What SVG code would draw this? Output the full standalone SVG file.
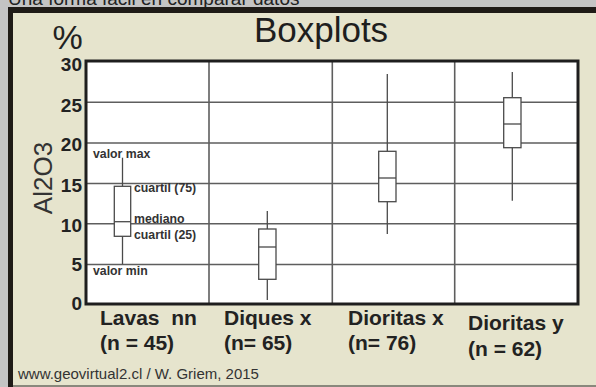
<svg xmlns="http://www.w3.org/2000/svg" width="596" height="387" viewBox="0 0 596 387">
<style>
  .grid { stroke: #5e5e5e; stroke-width: 1.6; fill: none; }
  .box { stroke: #4a4a4a; stroke-width: 1.3; fill: #ffffff; }
  .wh { stroke: #4a4a4a; stroke-width: 1.3; fill: none; }
  .tick { font-family: "Liberation Sans", Arial, sans-serif; font-weight: bold; font-size: 19px; fill: #222; text-anchor: end; }
  .cat { font-family: "Liberation Sans", Arial, sans-serif; font-weight: bold; font-size: 21px; fill: #222; }
  .ann { font-family: "Liberation Sans", Arial, sans-serif; font-weight: bold; font-size: 12.3px; fill: #333; }
</style>
<rect x="0" y="0" width="596" height="387" fill="#c4c4c4"/>
<text x="8" y="4.5" font-family="Liberation Sans, Arial, sans-serif" font-size="19" fill="#222">Una forma fácil en comparar datos</text>
<rect x="8" y="7" width="588" height="380" fill="#1f1b17"/>
<rect x="13" y="13" width="583" height="374" fill="#e6e4cd"/>
<line x1="13" y1="386" x2="596" y2="386" stroke="#6a6a60" stroke-width="1.5"/>

<g id="title">
  <text x="321" y="42" font-family="Liberation Sans, Arial, sans-serif" font-size="35" fill="#1e1e1e" text-anchor="middle">Boxplots</text>
  <text x="67.5" y="48.5" font-family="Liberation Sans, Arial, sans-serif" font-size="34" fill="#222" text-anchor="middle">%</text>
  <text transform="translate(52,178) rotate(-90)" font-family="Liberation Sans, Arial, sans-serif" font-size="26" fill="#333" text-anchor="middle">Al2O3</text>
</g>

<g id="plot">
  <rect x="86" y="61" width="492" height="243" fill="#ffffff"/>
  <g class="grid">
    <line x1="86" y1="102.3" x2="578" y2="102.3"/>
    <line x1="86" y1="143" x2="578" y2="143"/>
    <line x1="86" y1="183.5" x2="578" y2="183.5"/>
    <line x1="86" y1="223.7" x2="578" y2="223.7"/>
    <line x1="86" y1="264.5" x2="578" y2="264.5"/>
    <line x1="209" y1="61" x2="209" y2="304"/>
    <line x1="332.3" y1="61" x2="332.3" y2="304"/>
    <line x1="454.7" y1="61" x2="454.7" y2="304"/>
  </g>
  <rect x="86" y="61" width="492" height="243" fill="none" stroke="#1e1e1e" stroke-width="3"/>
</g>

<g id="yaxis">
  <text class="tick" x="82" y="70.5">30</text>
  <text class="tick" x="82" y="111.5">25</text>
  <text class="tick" x="82" y="151">20</text>
  <text class="tick" x="82" y="191.5">15</text>
  <text class="tick" x="82" y="231.5">10</text>
  <text class="tick" x="82" y="270.5">5</text>
  <text class="tick" x="82" y="310">0</text>
</g>

<g id="box-lavas">
  <line class="wh" x1="122.5" y1="157.7" x2="122.5" y2="264.3"/>
  <rect class="box" x="114.3" y="186.3" width="16.4" height="50"/>
  <line class="wh" x1="114.3" y1="221.7" x2="130.7" y2="221.7"/>
  <text class="ann" x="93" y="158">valor max</text>
  <text class="ann" x="134" y="191.5">cuartil (75)</text>
  <text class="ann" x="134" y="223">mediano</text>
  <text class="ann" x="134" y="238.5">cuartil (25)</text>
  <text class="ann" x="93" y="275">valor min</text>
</g>

<g id="box-diques">
  <line class="wh" x1="267.3" y1="211" x2="267.3" y2="300"/>
  <rect class="box" x="258.7" y="229" width="17.3" height="50.3"/>
  <line class="wh" x1="258.7" y1="247" x2="276" y2="247"/>
</g>

<g id="box-dioritas-x">
  <line class="wh" x1="387.3" y1="74" x2="387.3" y2="234"/>
  <rect class="box" x="378.7" y="151.3" width="17.3" height="50.4"/>
  <line class="wh" x1="378.7" y1="178" x2="396" y2="178"/>
</g>

<g id="box-dioritas-y">
  <line class="wh" x1="512.3" y1="72" x2="512.3" y2="200.7"/>
  <rect class="box" x="503.7" y="97.7" width="17.3" height="50"/>
  <line class="wh" x1="503.7" y1="124" x2="521" y2="124"/>
</g>

<g id="categories">
  <text class="cat" x="100" y="325" xml:space="preserve">Lavas  nn</text>
  <text class="cat" x="100" y="350">(n = 45)</text>
  <text class="cat" x="224" y="325">Diques x</text>
  <text class="cat" x="224" y="350">(n= 65)</text>
  <text class="cat" x="348" y="325">Dioritas x</text>
  <text class="cat" x="348" y="350">(n= 76)</text>
  <text class="cat" x="468" y="329.5">Dioritas y</text>
  <text class="cat" x="468" y="355.5">(n = 62)</text>
</g>

<text x="18" y="378.5" font-family="Liberation Sans, Arial, sans-serif" font-size="15" fill="#333">www.geovirtual2.cl / W. Griem, 2015</text>
</svg>
